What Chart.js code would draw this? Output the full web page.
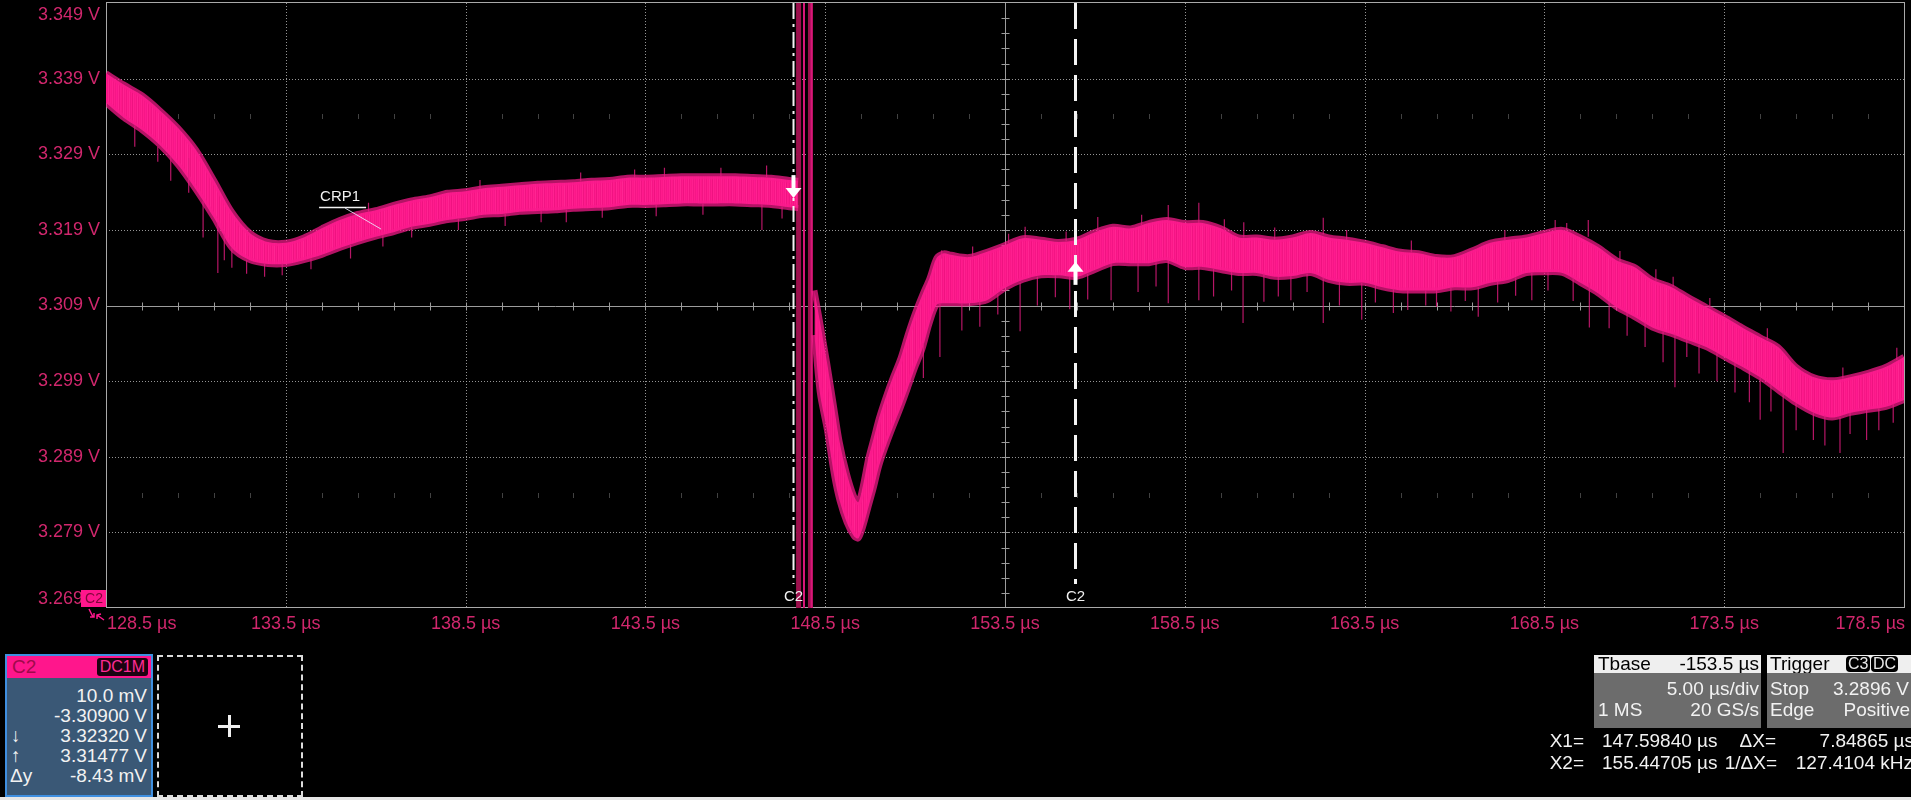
<!DOCTYPE html>
<html>
<head>
<meta charset="utf-8">
<script src="https://cdn.jsdelivr.net/npm/chart.js@4.4.1/dist/chart.umd.min.js"></script>
<style>
  html, body { margin: 0; padding: 0; background: #000; width: 1911px; height: 800px; overflow: hidden;
    font-family: "Liberation Sans", Arial, sans-serif; }
  #scope { position: absolute; left: 0; top: 0; }
  .abs { position: absolute; white-space: nowrap; }
  .txt { color: #f2f2f2; font-size: 19px; line-height: 20px; }
  #chanBox { left: 5px; top: 654px; width: 148px; height: 143px; box-sizing: border-box;
    border: 2px solid #3f8fe0; background: #3a5876; }
  #chanHead { left: 0; top: 0; width: 144px; height: 22px; background: #ff168c; }
  #chanName { left: 5px; top: 1px; color: #a00a4b; font-size: 19px; line-height: 20px; }
  #coupling { right: 3px; top: 2px; height: 18px; padding: 0 3px; background: #1c0311; color: #ff2b94;
    font-size: 16px; line-height: 18px; border-radius: 3px; }
  #zoomBox { left: 157px; top: 655px; width: 146px; height: 142px; box-sizing: border-box;
    border: 2px dashed #dcdcdc; }
  .hdr { background: #efefef; color: #000; font-size: 19px; line-height: 18px; height: 18px; }
  .body { background: #6c6c6c; }
  .badge { background: #000; color: #e8e8e8; border-radius: 4px; font-size: 16px; line-height: 16px;
    padding: 0 2px; top: 1px; }
  #bottomStrip { left: 0; top: 797px; width: 1911px; height: 3px; background: #e6e6e6; }
</style>
</head>
<body>
<canvas id="scope" width="1911" height="800"></canvas>

<!-- channel descriptor -->
<div id="chanBox" class="abs">
  <div id="chanHead" class="abs">
    <span id="chanName" class="abs">C2</span>
    <span id="coupling" class="abs">DC1M</span>
  </div>
  <div class="abs txt" style="right:4px;top:30px;">10.0 mV</div>
  <div class="abs txt" style="right:4px;top:50px;">-3.30900 V</div>
  <div class="abs txt" style="left:4px;top:70px;">↓</div>
  <div class="abs txt" style="right:4px;top:70px;">3.32320 V</div>
  <div class="abs txt" style="left:4px;top:90px;">↑</div>
  <div class="abs txt" style="right:4px;top:90px;">3.31477 V</div>
  <div class="abs txt" style="left:3px;top:110px;">Δy</div>
  <div class="abs txt" style="right:4px;top:110px;">-8.43 mV</div>
</div>
<div id="zoomBox" class="abs">
  <div class="abs" style="left:59px;top:68px;width:22px;height:3px;background:#f0f0f0;"></div>
  <div class="abs" style="left:69px;top:58px;width:3px;height:22px;background:#f0f0f0;"></div>
</div>

<!-- timebase / trigger -->
<div class="abs hdr" style="left:1594px;top:655px;width:167px;">
  <span class="abs" style="left:4px;top:0;">Tbase</span>
  <span class="abs" style="right:2px;top:0;">-153.5 µs</span>
</div>
<div class="abs body" style="left:1594px;top:673px;width:167px;height:55px;">
  <span class="abs txt" style="right:2px;top:6px;">5.00 µs/div</span>
  <span class="abs txt" style="left:4px;top:27px;">1 MS</span>
  <span class="abs txt" style="right:2px;top:27px;">20 GS/s</span>
</div>
<div class="abs hdr" style="left:1767px;top:655px;width:150px;">
  <span class="abs" style="left:3px;top:0;">Trigger</span>
  <span class="abs badge" style="left:79px;">C3</span>
  <span class="abs badge" style="left:104px;">DC</span>
</div>
<div class="abs body" style="left:1767px;top:673px;width:150px;height:55px;">
  <span class="abs txt" style="left:3px;top:6px;">Stop</span>
  <span class="abs txt" style="right:8px;top:6px;">3.2896 V</span>
  <span class="abs txt" style="left:3px;top:27px;">Edge</span>
  <span class="abs txt" style="right:7px;top:27px;">Positive</span>
</div>
<span class="abs txt" style="right:327px;top:731px;">X1=</span>
<span class="abs txt" style="left:1602px;top:731px;">147.59840 µs</span>
<span class="abs txt" style="right:135px;top:731px;">ΔX=</span>
<span class="abs txt" style="right:-3px;top:731px;">7.84865 µs</span>
<span class="abs txt" style="right:327px;top:753px;">X2=</span>
<span class="abs txt" style="left:1602px;top:753px;">155.44705 µs</span>
<span class="abs txt" style="right:134px;top:753px;">1/ΔX=</span>
<span class="abs txt" style="right:-2px;top:753px;">127.4104 kHz</span>
<div id="bottomStrip" class="abs"></div>

<script>
// ---- time base and vertical grid (µs / V) ----
const xTicks = [128.5, 133.5, 138.5, 143.5, 148.5, 153.5, 158.5, 163.5, 168.5, 173.5, 178.5];
const yTicks = [3.269, 3.279, 3.289, 3.299, 3.309, 3.319, 3.329, 3.339, 3.349];

// ---- C2 trace before the switching event: envelope of the noise band ----
const preT = [128.5, 129, 129.5, 130, 130.5, 131, 131.5, 132, 132.5, 133, 133.5, 134, 134.5, 135,
  135.5, 136, 136.5, 137, 137.5, 138, 138.5, 139, 139.5, 140, 140.5, 141, 141.5, 142, 142.5, 143,
  143.5, 144, 144.5, 145, 145.5, 146, 146.5, 147, 147.5, 147.75];
const preUpper = [3.3397, 3.3382, 3.3368, 3.3348, 3.3325, 3.3296, 3.3256, 3.3214, 3.3186, 3.3174,
  3.3173, 3.3180, 3.3192, 3.3203, 3.3211, 3.3216, 3.3223, 3.3229, 3.3233, 3.3239, 3.3241, 3.3245,
  3.3247, 3.3249, 3.3251, 3.3252, 3.3253, 3.3255, 3.3256, 3.3259, 3.3259, 3.3260, 3.3261, 3.3261,
  3.3261, 3.3261, 3.3260, 3.3259, 3.3256, 3.3255];
const preLower = [3.3358, 3.3338, 3.3322, 3.3302, 3.3276, 3.3243, 3.3206, 3.3166, 3.3150, 3.3145,
  3.3145, 3.3150, 3.3157, 3.3166, 3.3174, 3.3181, 3.3187, 3.3194, 3.3198, 3.3203, 3.3206, 3.3210,
  3.3211, 3.3214, 3.3215, 3.3216, 3.3218, 3.3219, 3.3220, 3.3223, 3.3223, 3.3224, 3.3225, 3.3225,
  3.3225, 3.3225, 3.3224, 3.3223, 3.3220, 3.3219];

// ---- C2 trace after the event: undershoot, recovery and slow droop ----
const postT = [148.2, 148.35, 148.55, 148.75, 148.9, 149.1, 149.3, 149.42, 149.55, 149.7, 149.85,
  150, 150.2, 150.4, 150.6, 150.8, 151, 151.2, 151.4, 151.6, 151.8, 152, 152.5, 153, 153.5, 154,
  154.5, 155, 155.5, 156, 156.5, 157, 157.5, 158, 158.5, 159, 159.5, 160, 160.5, 161, 161.5, 162,
  162.5, 163, 163.5, 164, 164.5, 165, 165.5, 166, 166.5, 167, 167.5, 168, 168.5, 169, 169.5, 170,
  170.5, 171, 171.5, 172, 172.5, 173, 173.5, 174, 174.5, 175, 175.5, 176, 176.5, 177, 177.5, 178,
  178.5];
const postUpper = [3.3110, 3.3070, 3.3015, 3.2955, 3.2910, 3.2868, 3.2838, 3.2830, 3.2852, 3.2888,
  3.2915, 3.2942, 3.2971, 3.2997, 3.3021, 3.3052, 3.3080, 3.3104, 3.3126, 3.3153, 3.3159, 3.3157,
  3.3154, 3.3161, 3.3170, 3.3179, 3.3177, 3.3174, 3.3177, 3.3187, 3.3194, 3.3192, 3.3199, 3.3203,
  3.3199, 3.3199, 3.3192, 3.3180, 3.3180, 3.3177, 3.3180, 3.3186, 3.3180, 3.3177, 3.3173, 3.3167,
  3.3161, 3.3159, 3.3154, 3.3154, 3.3163, 3.3173, 3.3177, 3.3180, 3.3186, 3.3190, 3.3180, 3.3167,
  3.3150, 3.3141, 3.3124, 3.3115, 3.3101, 3.3088, 3.3075, 3.3061, 3.3048, 3.3035, 3.3009, 3.2995,
  3.2991, 3.2995, 3.3001, 3.3009, 3.3022];
const postLower = [3.3051, 3.2975, 3.2925, 3.2865, 3.2832, 3.2803, 3.2785, 3.2782, 3.2797, 3.2823,
  3.2849, 3.2878, 3.2906, 3.2931, 3.2955, 3.2981, 3.3008, 3.3032, 3.3066, 3.3091, 3.3093, 3.3093,
  3.3093, 3.3097, 3.3113, 3.3124, 3.3130, 3.3130, 3.3128, 3.3137, 3.3146, 3.3146, 3.3146, 3.3150,
  3.3141, 3.3141, 3.3137, 3.3133, 3.3133, 3.3128, 3.3129, 3.3133, 3.3124, 3.3120, 3.3120, 3.3114,
  3.3110, 3.3110, 3.3110, 3.3114, 3.3114, 3.3120, 3.3124, 3.3133, 3.3134, 3.3133, 3.3120, 3.3106,
  3.3088, 3.3075, 3.3061, 3.3053, 3.3044, 3.3035, 3.3022, 3.3009, 3.2995, 3.2978, 3.2961, 3.2948,
  3.2942, 3.2948, 3.2952, 3.2956, 3.2965];

// ---- isolated noise spikes: [time µs, start V, tip V] ----
const spikes = [
  [129.30, 3.3328, 3.3300], [129.94, 3.3300, 3.3280], [130.30, 3.3288, 3.3255], [130.80, 3.3285, 3.3239],
  [131.20, 3.3228, 3.3180], [131.61, 3.3200, 3.3133], [131.79, 3.3185, 3.3150], [132.00, 3.3166, 3.3140],
  [132.41, 3.3150, 3.3132], [132.91, 3.3146, 3.3128], [133.40, 3.3146, 3.3130], [134.20, 3.3152, 3.3138],
  [135.30, 3.3170, 3.3152], [136.20, 3.3183, 3.3168], [137.00, 3.3194, 3.3180], [138.30, 3.3205, 3.3190],
  [139.60, 3.3211, 3.3195], [140.60, 3.3215, 3.3200], [141.30, 3.3217, 3.3200], [142.30, 3.3220, 3.3206],
  [143.80, 3.3224, 3.3208], [145.10, 3.3225, 3.3210], [146.74, 3.3224, 3.3190], [147.30, 3.3221, 3.3205],
  [135.80, 3.3214, 3.3226], [138.90, 3.3244, 3.3256], [141.70, 3.3254, 3.3266], [143.20, 3.3259, 3.3270],
  [144.03, 3.3260, 3.3272], [145.60, 3.3261, 3.3272], [146.87, 3.3260, 3.3275],
  [151.23, 3.3040, 3.2994], [151.69, 3.3092, 3.3022], [151.74, 3.3152, 3.3163], [152.30, 3.3093, 3.3057],
  [152.60, 3.3155, 3.3168], [152.80, 3.3097, 3.3062], [153.30, 3.3105, 3.3078], [153.60, 3.3172, 3.3185],
  [153.92, 3.3120, 3.3056], [154.06, 3.3179, 3.3194], [154.40, 3.3128, 3.3090], [154.90, 3.3130, 3.3101],
  [155.20, 3.3175, 3.3188], [155.30, 3.3129, 3.3085], [155.80, 3.3132, 3.3098], [156.08, 3.3187, 3.3207],
  [156.45, 3.3146, 3.3097], [157.20, 3.3146, 3.3108], [157.30, 3.3196, 3.3210], [157.70, 3.3147, 3.3115],
  [158.04, 3.3150, 3.3093], [158.04, 3.3203, 3.3223], [158.89, 3.3141, 3.3097], [158.89, 3.3199, 3.3226],
  [159.30, 3.3139, 3.3102], [159.60, 3.3190, 3.3204], [159.80, 3.3135, 3.3110], [160.12, 3.3133, 3.3067],
  [160.14, 3.3180, 3.3200], [160.70, 3.3133, 3.3095], [161.00, 3.3177, 3.3193], [161.10, 3.3128, 3.3102],
  [161.45, 3.3129, 3.3097], [161.90, 3.3132, 3.3108], [162.35, 3.3128, 3.3067], [162.35, 3.3184, 3.3206],
  [162.80, 3.3122, 3.3090], [163.00, 3.3177, 3.3190], [163.42, 3.3120, 3.3071], [163.80, 3.3117, 3.3094],
  [164.30, 3.3112, 3.3080], [164.70, 3.3110, 3.3084], [164.80, 3.3160, 3.3176], [165.20, 3.3110, 3.3090],
  [165.50, 3.3110, 3.3088], [165.90, 3.3113, 3.3082], [166.30, 3.3114, 3.3096], [166.66, 3.3114, 3.3075],
  [167.20, 3.3121, 3.3094], [167.40, 3.3176, 3.3190], [167.70, 3.3127, 3.3103], [168.15, 3.3133, 3.3097],
  [168.60, 3.3134, 3.3110], [168.80, 3.3188, 3.3203], [169.12, 3.3189, 3.3199], [169.30, 3.3127, 3.3096],
  [169.72, 3.3181, 3.3203], [169.75, 3.3120, 3.3061], [170.30, 3.3096, 3.3060], [170.60, 3.3148, 3.3162],
  [170.80, 3.3080, 3.3050], [171.30, 3.3068, 3.3035], [171.60, 3.3122, 3.3138], [171.80, 3.3056, 3.3015],
  [172.08, 3.3115, 3.3128], [172.13, 3.3053, 3.2982], [172.46, 3.3046, 3.3022], [172.80, 3.3038, 3.3000],
  [173.10, 3.3086, 3.3100], [173.30, 3.3027, 3.2990], [173.80, 3.3014, 3.2975], [174.20, 3.3004, 3.2962],
  [174.50, 3.2995, 3.2939], [174.70, 3.3044, 3.3060], [174.80, 3.2985, 3.2950], [175.14, 3.2975, 3.2895],
  [175.50, 3.2961, 3.2925], [175.98, 3.2948, 3.2912], [176.30, 3.2945, 3.2905], [176.72, 3.2942, 3.2895],
  [176.80, 3.2993, 3.3008], [177.00, 3.2948, 3.2920], [177.46, 3.2952, 3.2912], [177.80, 3.2954, 3.2925],
  [178.20, 3.2960, 3.2935], [178.30, 3.3018, 3.3034]
];

// ---- switching transient: full-scale excursions (clipped at the screen edges) ----
const glitchDarkT = [147.76, 148.09];
const glitchBrightT = [147.91, 148.12];
const glitchSpanV = [3.25, 3.37];

// ---- cursors (time, level) and trace annotation ----
const cursorT = [147.59840, 155.44705];
const cursorV = [3.32320, 3.31477];
const crpT = 136.15, crpV = 3.3191;

const pts = (ts, vs) => ts.map((t, i) => ({ x: t, y: vs[i] }));
const vSegments = (ts) => ts.flatMap(t => [{ x: t, y: glitchSpanV[0] }, { x: t, y: glitchSpanV[1] }, { x: t, y: null }]);
const spikeSegments = spikes.flatMap(s => [{ x: s[0], y: s[1] }, { x: s[0], y: s[2] }, { x: s[0], y: null }]);

// irregular vertical striation used to fill the persistence band
function stripePattern() {
  const c = document.createElement('canvas');
  c.width = 29; c.height = 8;
  const g = c.getContext('2d');
  const shades = ['#ff1a8e', '#f8168a', '#ff2290', '#f01381', '#ff1a8e', '#fc1989', '#f21483',
    '#ff2391', '#f71687', '#ff1c8c', '#f31484', '#ff1e8e', '#fb1888', '#ff2592', '#f41585',
    '#ff1a8d', '#ef1280', '#ff208f', '#f91789', '#ff1b8c', '#f51586', '#ff2491', '#f21383',
    '#ff1a8d', '#fa1888', '#ff1f8f', '#f41585', '#ff1c8c', '#f61687'];
  shades.forEach((s, i) => { g.fillStyle = s; g.fillRect(i, 0, 1, 8); });
  return g.createPattern(c, 'repeat');
}
const bandFill = stripePattern();
const edge = 'rgba(250,26,140,0.72)';
const lineBase = { pointRadius: 0, tension: 0.3, spanGaps: false };

const LABEL_FONT = '18px "Liberation Sans", Arial, sans-serif';
const LABEL_COLOR = '#d1276d';

const scopeGrid = {
  id: 'scopeGrid',
  beforeDatasetsDraw(chart) {
    const { ctx, chartArea: a, scales: { x, y } } = chart;
    ctx.save();
    ctx.lineWidth = 1;
    // dotted division lines
    ctx.strokeStyle = 'rgba(175,175,175,0.85)';
    ctx.setLineDash([1, 2]);
    xTicks.slice(1, -1).forEach(v => {
      const px = Math.round(x.getPixelForValue(v)) + 0.5;
      ctx.beginPath(); ctx.moveTo(px, a.top); ctx.lineTo(px, a.bottom); ctx.stroke();
    });
    yTicks.slice(1, -1).forEach(v => {
      const py = Math.round(y.getPixelForValue(v)) + 0.5;
      ctx.beginPath(); ctx.moveTo(a.left, py); ctx.lineTo(a.right, py); ctx.stroke();
    });
    ctx.setLineDash([]);
    // centre axes with sub-division ticks
    const xc = xTicks[5], yc = yTicks[4];
    const pxc = Math.round(x.getPixelForValue(xc)) + 0.5;
    const pyc = Math.round(y.getPixelForValue(yc)) + 0.5;
    ctx.strokeStyle = '#9c9c9c';
    ctx.beginPath(); ctx.moveTo(pxc, a.top); ctx.lineTo(pxc, a.bottom); ctx.stroke();
    ctx.beginPath(); ctx.moveTo(a.left, pyc); ctx.lineTo(a.right, pyc); ctx.stroke();
    const xStep = (xTicks[1] - xTicks[0]) / 5, yStep = (yTicks[1] - yTicks[0]) / 5;
    for (let k = 1; k < 50; k++) {
      const px = Math.round(x.getPixelForValue(xTicks[0] + k * xStep)) + 0.5;
      ctx.beginPath(); ctx.moveTo(px, pyc - 4); ctx.lineTo(px, pyc + 4); ctx.stroke();
    }
    for (let k = 1; k < 40; k++) {
      const py = Math.round(y.getPixelForValue(yTicks[0] + k * yStep)) + 0.5;
      ctx.beginPath(); ctx.moveTo(pxc - 4, py); ctx.lineTo(pxc + 4, py); ctx.stroke();
    }
    // faint sub-division marks on two rows
    ctx.strokeStyle = 'rgba(110,110,110,0.6)';
    [yTicks[6] + 5 * yStep / 2, yTicks[1] + 5 * yStep / 2].forEach(v => {
      const py = Math.round(y.getPixelForValue(v));
      for (let k = 1; k < 50; k++) {
        if (k % 5 === 0) continue;
        const px = Math.round(x.getPixelForValue(xTicks[0] + k * xStep)) + 0.5;
        ctx.beginPath(); ctx.moveTo(px, py - 2); ctx.lineTo(px, py + 3); ctx.stroke();
      }
    });
    // graticule border
    ctx.strokeStyle = '#a9a9a9';
    ctx.strokeRect(Math.round(a.left) + 0.5, Math.round(a.top) - 0.5, Math.round(a.right - a.left), Math.round(a.bottom - a.top));
    ctx.restore();
  },
  afterDatasetsDraw(chart) {
    const { ctx, chartArea: a, scales: { x, y } } = chart;
    ctx.save();
    // cursors
    const styles = [{ w: 2, dash: [16, 5, 3, 5] }, { w: 3, dash: [26, 10] }];
    cursorT.forEach((t, i) => {
      const px = Math.round(x.getPixelForValue(t)) + 0.5;
      ctx.strokeStyle = '#f4f4f4';
      ctx.lineWidth = styles[i].w;
      ctx.setLineDash(styles[i].dash);
      ctx.beginPath(); ctx.moveTo(px, a.top); ctx.lineTo(px, a.bottom - 24); ctx.stroke();
      ctx.setLineDash([]);
      ctx.fillStyle = '#f0f0f0';
      ctx.font = '15px "Liberation Sans", Arial, sans-serif';
      ctx.textAlign = 'center'; ctx.textBaseline = 'middle';
      ctx.fillText('C2', px, a.bottom - 11);
      // level arrow
      const ty = y.getPixelForValue(cursorV[i]);
      const dir = cursorV[i] >= cursorV[1 - i] ? -1 : 1;
      ctx.fillStyle = '#ffffff';
      ctx.beginPath();
      ctx.moveTo(px, ty);
      ctx.lineTo(px - 8, ty + dir * 10);
      ctx.lineTo(px + 8, ty + dir * 10);
      ctx.closePath(); ctx.fill();
      const s0 = ty + dir * 9, s1 = ty + dir * 23;
      ctx.fillRect(px - 2, Math.min(s0, s1), 4, Math.abs(s1 - s0));
    });
    // CRP1 annotation
    const ax = x.getPixelForValue(crpT), ay = y.getPixelForValue(crpV);
    ctx.fillStyle = '#f2f2f2';
    ctx.font = '15px "Liberation Sans", Arial, sans-serif';
    ctx.textAlign = 'left'; ctx.textBaseline = 'middle';
    ctx.fillText('CRP1', ax - 61, ay - 32);
    ctx.strokeStyle = '#f2f2f2'; ctx.lineWidth = 1.5;
    ctx.beginPath(); ctx.moveTo(ax - 62, ay - 21.5); ctx.lineTo(ax - 15, ay - 21.5); ctx.stroke();
    ctx.lineWidth = 1; ctx.strokeStyle = 'rgba(235,235,255,0.85)';
    ctx.beginPath(); ctx.moveTo(ax - 36, ay - 21); ctx.lineTo(ax, ay); ctx.stroke();
    ctx.restore();
  },
  afterDraw(chart) {
    const { ctx, chartArea: a, scales: { x, y } } = chart;
    ctx.save();
    ctx.font = LABEL_FONT;
    ctx.fillStyle = LABEL_COLOR;
    ctx.textBaseline = 'middle';
    ctx.textAlign = 'right';
    yTicks.forEach(v => {
      const py = Math.min(Math.max(y.getPixelForValue(v), a.top + 12), a.bottom - 9);
      ctx.fillText(v.toFixed(3) + ' V', a.left - 6, py);
    });
    xTicks.forEach((v, i) => {
      let px = x.getPixelForValue(v);
      if (i === 0) { ctx.textAlign = 'left'; px += 1; }
      else if (i === xTicks.length - 1) { ctx.textAlign = 'right'; px += 1; }
      else ctx.textAlign = 'center';
      ctx.fillText(v.toFixed(1) + ' µs', px, a.bottom + 16);
    });
    // channel marker at the lower edge of the graticule
    ctx.fillStyle = '#ff168c';
    ctx.fillRect(a.left - 25, a.bottom - 18, 25, 17);
    ctx.fillStyle = '#7c0637';
    ctx.font = '14px "Liberation Sans", Arial, sans-serif';
    ctx.textAlign = 'center';
    ctx.fillText('C2', a.left - 12, a.bottom - 9);
    ctx.strokeStyle = '#ff168c'; ctx.lineWidth = 1.5;
    ctx.beginPath();
    ctx.moveTo(a.left - 17, a.bottom + 1); ctx.lineTo(a.left - 13, a.bottom + 9);
    ctx.moveTo(a.left - 16, a.bottom + 9); ctx.lineTo(a.left - 12, a.bottom + 9); ctx.lineTo(a.left - 12, a.bottom + 5);
    ctx.moveTo(a.left - 2, a.bottom + 12); ctx.lineTo(a.left - 9, a.bottom + 7);
    ctx.moveTo(a.left - 9, a.bottom + 11); ctx.lineTo(a.left - 9, a.bottom + 7); ctx.lineTo(a.left - 5, a.bottom + 6);
    ctx.stroke();
    ctx.restore();
  }
};

new Chart(document.getElementById('scope'), {
  type: 'line',
  data: {
    datasets: [
      Object.assign({ data: spikeSegments, borderColor: 'rgba(228,28,128,0.8)', borderWidth: 1.2 }, lineBase, { tension: 0 }),
      Object.assign({ data: pts(preT, preLower), borderColor: edge, borderWidth: 6, fill: false }, lineBase),
      Object.assign({ data: pts(preT, preUpper), borderColor: edge, borderWidth: 6, fill: '-1', backgroundColor: bandFill }, lineBase),
      Object.assign({ data: pts(postT, postLower), borderColor: edge, borderWidth: 6, fill: false }, lineBase),
      Object.assign({ data: pts(postT, postUpper), borderColor: edge, borderWidth: 6, fill: '-1', backgroundColor: bandFill }, lineBase),
      Object.assign({ data: vSegments(glitchBrightT), borderColor: '#d8177a', borderWidth: 2 }, lineBase, { tension: 0 }),
      Object.assign({ data: vSegments(glitchDarkT), borderColor: '#9c0f4c', borderWidth: 5 }, lineBase, { tension: 0 })
    ]
  },
  options: {
    responsive: false,
    animation: false,
    events: [],
    layout: { padding: { left: 106, right: 7, top: 3, bottom: 192 } },
    scales: {
      x: { type: 'linear', min: xTicks[0], max: xTicks[xTicks.length - 1], display: false },
      y: { type: 'linear', min: yTicks[0], max: yTicks[yTicks.length - 1], display: false }
    },
    plugins: { legend: { display: false }, tooltip: { enabled: false } }
  },
  plugins: [scopeGrid]
});
</script>
</body>
</html>
